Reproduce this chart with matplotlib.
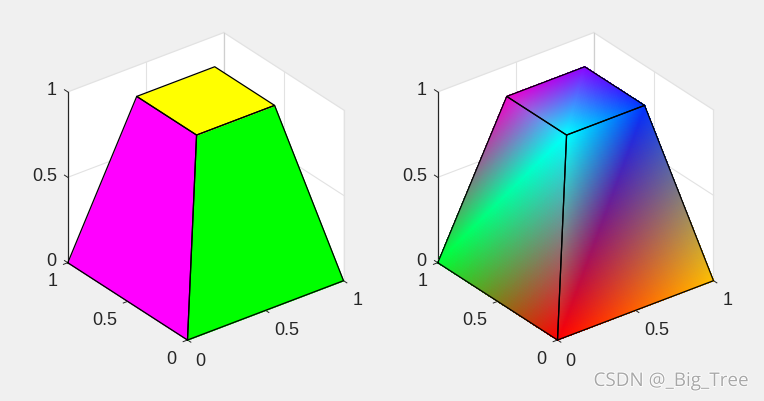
import matplotlib
matplotlib.use('Agg')
import matplotlib.pyplot as plt
import matplotlib.patheffects as pe
import numpy as np
from mpl_toolkits.mplot3d import proj3d
from mpl_toolkits.mplot3d.art3d import Poly3DCollection

# frustum: base is the unit square at z=0, top is the inner square at z=1
VERTS = [(0, 0, 0), (1, 0, 0), (0, 1, 0),
         (0.25, 0.25, 1), (0.75, 0.25, 1), (0.75, 0.75, 1), (0.25, 0.75, 1)]
# each visible face is listed so its first diagonal is the shading split
FACE_LEFT = [2, 0, 3, 6]
FACE_RIGHT = [0, 1, 4, 3]
FACE_TOP = [3, 4, 5, 6]
FACES = [FACE_LEFT, FACE_RIGHT, FACE_TOP]
FLAT_COLORS = ['#ff00ff', '#00ff00', '#ffff00']
VERTEX_COLORS = [(1, 0, 0), (1, 0.76, 0), (0, 1, 0.2),
                 (0, 1, 1), (0, 0.2, 1), (0.55, 0, 1), (0.95, 0, 0.8)]
TICKS = [0, 0.5, 1]
TICK_LABELS = ['0', '0.5', '1']
X_LABEL_OFFSETS = [(13, -19), (21, -18), (14, -18)]
Y_LABEL_OFFSETS = [(-16, -17), (-23, -17), (-15.5, -17)]

BG = '#f0f0f0'
DARK = '#262626'
GRID = '#e2e2e2'
EDGE = '#cfcfcf'


def to_px(ax, p):
    x, y, _ = proj3d.proj_transform(*p, ax.get_proj())
    return ax.transData.transform((x, y))


def fit_axes(fig, ax, origin, x_span):
    # size and move the axes so the cube lands on the given pixels
    W, H = fig.bbox.width, fig.bbox.height
    size = 400.0
    ax.set_position([0, 0, size / W, size / H])
    k = x_span / (to_px(ax, (1, 0, 0)) - to_px(ax, (0, 0, 0)))[0]
    size *= k
    ax.set_position([0, 0, size / W, size / H])
    a = to_px(ax, (0, 0, 0))
    ax.set_position([(origin[0] - a[0]) / W, (H - origin[1] - a[1]) / H, size / W, size / H])


def shaded_triangles(tri, n=70):
    # gouraud fill: split the triangle and blend the corner colours
    pts = np.array([VERTS[i] for i in tri], dtype=float)
    cols = np.array([VERTEX_COLORS[i] for i in tri], dtype=float)
    polys, colors = [], []
    for i in range(n):
        for j in range(n - i):
            cells = [[(i, j), (i + 1, j), (i, j + 1)]]
            if i + j < n - 1:
                cells.append([(i + 1, j), (i + 1, j + 1), (i, j + 1)])
            for cell in cells:
                w = np.array([[a / n, b / n, 1 - (a + b) / n] for a, b in cell])
                polys.append(w @ pts)
                colors.append(np.clip((w @ cols).mean(axis=0), 0, 1))
    return polys, colors


def draw_box(ax):
    panes = [[(1, 0, 0), (1, 1, 0), (1, 1, 1), (1, 0, 1)],
             [(0, 1, 0), (1, 1, 0), (1, 1, 1), (0, 1, 1)],
             [(0, 0, 0), (1, 0, 0), (1, 1, 0), (0, 1, 0)]]
    ax.add_collection3d(Poly3DCollection(panes, facecolors='white', edgecolors='none', zorder=1))
    t = TICKS[1]
    for seg in [((t, 1, 0), (t, 1, 1)), ((1, t, 0), (1, t, 1)),
                ((0, 1, t), (1, 1, t)), ((1, 0, t), (1, 1, t)),
                ((t, 0, 0), (t, 1, 0)), ((0, t, 0), (1, t, 0))]:
        ax.plot(*zip(*seg), color=GRID, lw=0.8, zorder=2)
    for seg in [((1, 0, 0), (1, 0, 1)), ((1, 0, 1), (1, 1, 1)), ((0, 1, 1), (1, 1, 1))]:
        ax.plot(*zip(*seg), color=GRID, lw=0.9, zorder=2)
    ax.plot([1, 1], [1, 1], [0, 1], color=EDGE, lw=0.9, zorder=2)


def draw_axes_text(fig, ax):
    tl = 0.028
    W, H = fig.bbox.width, fig.bbox.height
    ax.plot([0, 0], [1, 1], [0, 1], color=DARK, lw=0.9, zorder=3)
    ax.plot([0, 1], [0, 0], [0, 0], color=DARK, lw=0.9, zorder=3)
    ax.plot([0, 0], [0, 1], [0, 0], color=DARK, lw=0.9, zorder=3)
    for i, t in enumerate(TICKS):
        ax.plot([t, t], [0, -tl], [0, 0], color=DARK, lw=0.7, zorder=3)
        ax.plot([0, -tl], [t, t], [0, 0], color=DARK, lw=0.7, zorder=3)
        ax.plot([0, 0], [1, 1 + tl], [t, t], color=DARK, lw=0.7, zorder=3)
        for pos, off, ha in [((t, 0, 0), X_LABEL_OFFSETS[i], 'center'),
                             ((0, t, 0), Y_LABEL_OFFSETS[i], 'center'),
                             ((0, 1, t), (-11, 3), 'right')]:
            px = to_px(ax, pos)
            fig.text((px[0] + off[0]) / W, (px[1] + off[1]) / H, TICK_LABELS[i], ha=ha,
                     va='center_baseline', fontsize=13, color=DARK, family='Liberation Sans')


fig = plt.figure(figsize=(7.64, 4.01), dpi=100, facecolor=BG)

for origin, shaded in [((187.5, 340), False), ((557.5, 340), True)]:
    ax = fig.add_subplot(projection='3d', computed_zorder=False)
    ax.set_proj_type('ortho')
    ax.view_init(elev=29.7, azim=-127.5)
    ax.set_box_aspect((1, 1, 1))
    ax.set_xlim(0, 1, view_margin=0)
    ax.set_ylim(0, 1, view_margin=0)
    ax.set_zlim(0, 1, view_margin=0)
    ax.set_axis_off()
    ax.patch.set_facecolor('none')
    fit_axes(fig, ax, origin, 156)

    draw_box(ax)
    for k, face in enumerate(FACES):
        pts = [VERTS[i] for i in face]
        if shaded:
            for tri in ([face[0], face[1], face[2]], [face[0], face[2], face[3]]):
                polys, colors = shaded_triangles(tri)
                ax.add_collection3d(Poly3DCollection(polys, facecolors=colors, edgecolors=colors,
                                                     linewidths=0.3, antialiased=False, zorder=4))
        else:
            ax.add_collection3d(Poly3DCollection([pts], facecolors=FLAT_COLORS[k],
                                                 edgecolors=FLAT_COLORS[k], linewidths=0.3, zorder=4))
    draw_axes_text(fig, ax)
    for face in FACES:
        loop = face + face[:1]
        ax.plot(*zip(*[VERTS[i] for i in loop]), color='black', lw=0.9, zorder=5)

fig.text(749 / 764, 1 - 381 / 401, 'CSDN @_Big_Tree', ha='right', va='center', fontsize=13.6,
         color='#a8a8a8', family='Open Sans',
         path_effects=[pe.withStroke(linewidth=1.2, foreground='white')])

plt.savefig('out.png', dpi=100, facecolor=BG)
plt.close()
